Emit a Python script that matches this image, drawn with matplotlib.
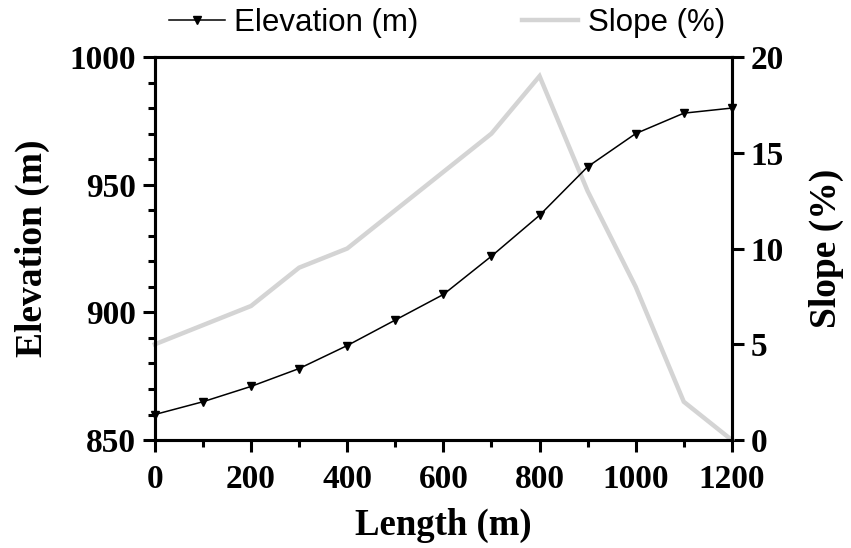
import matplotlib
import matplotlib.pyplot as plt
from matplotlib.ticker import MultipleLocator

matplotlib.use('Agg')

# profile data
length_m = [0, 100, 200, 300, 400, 500, 600, 700, 800, 900, 1000, 1100, 1200]
elevation_m = [860, 865, 871, 878, 887, 897, 907, 922, 938, 957, 970, 978, 980]
slope_pct = [5, 6, 7, 9, 10, 12, 14, 16, 19, 13, 8, 2, 0]

serif = ['Liberation Serif', 'DejaVu Serif']
sans = ['Liberation Sans', 'DejaVu Sans']

fig = plt.figure(figsize=(8.51, 5.48), dpi=100)
ax = fig.add_axes([0.182, 0.197, 0.678, 0.699])
ax2 = ax.twinx()

# elevation drawn above the slope line
ax.set_zorder(ax2.get_zorder() + 1)
ax.patch.set_visible(False)

l2, = ax2.plot(length_m, slope_pct, color='#d4d4d4', lw=3.2, solid_joinstyle='miter',
               label='Slope (%)', clip_on=False)
l1, = ax.plot(length_m, elevation_m, color='black', lw=1.1, marker='v', markersize=6,
              label='Elevation (m)', clip_on=False)

ax.set_xlim(0, 1200)
ax.set_ylim(850, 1000)
ax2.set_ylim(0, 20)

ax.xaxis.set_major_locator(MultipleLocator(200))
ax.xaxis.set_minor_locator(MultipleLocator(100))
ax.yaxis.set_major_locator(MultipleLocator(50))
ax.yaxis.set_minor_locator(MultipleLocator(10))
ax2.yaxis.set_major_locator(MultipleLocator(5))

for a in (ax, ax2):
    for s in a.spines.values():
        s.set_linewidth(2.2)
    a.tick_params(which='major', direction='out', length=8.5, width=2.2, pad=5)
    a.tick_params(which='minor', direction='out', length=5, width=2.2)
    for lab in a.get_xticklabels() + a.get_yticklabels():
        lab.set_fontfamily(serif)
        lab.set_fontweight('bold')
        lab.set_fontsize(24)
ax.tick_params(axis='x', which='major', pad=9)

ax.set_xlabel('Length (m)', fontfamily=serif, fontweight='bold', fontsize=26.5, labelpad=9)
ax.set_ylabel('Elevation (m)', fontfamily=serif, fontweight='bold', fontsize=27, labelpad=14)
ax2.set_ylabel('Slope (%)', fontfamily=serif, fontweight='bold', fontsize=27, labelpad=18)

fig.legend(handles=[l1, l2], loc='center', bbox_to_anchor=(0.525, 0.958), ncol=2,
           frameon=False, prop={'family': sans, 'size': 22.5}, handlelength=1.8,
           handletextpad=0.3, columnspacing=3.3, borderpad=0, borderaxespad=0)

fig.savefig('out.png', dpi=100)
